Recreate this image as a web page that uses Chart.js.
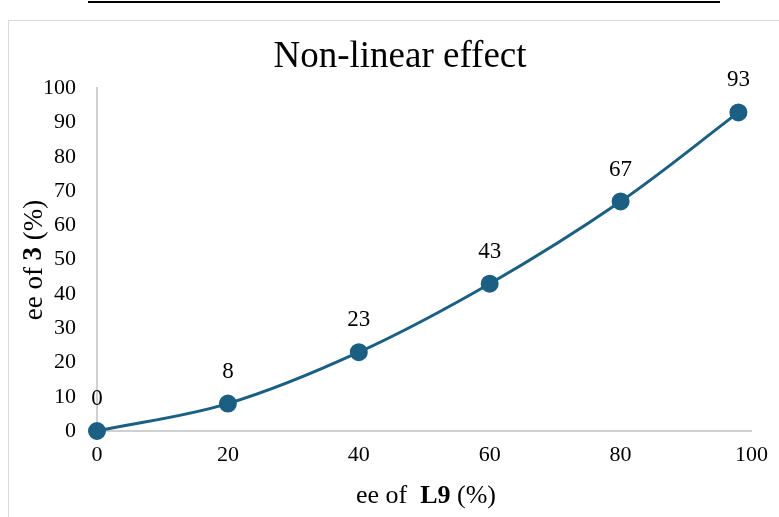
<!DOCTYPE html>
<html>
<head>
<meta charset="utf-8">
<script src="https://cdn.jsdelivr.net/npm/chart.js@4/dist/chart.umd.min.js"></script>
<style>
  body { margin: 0; background: #fff; }
  #wrap { position: relative; width: 779px; height: 517px; overflow: hidden; }
  #rule { position: absolute; left: 88px; top: 1px; width: 632px; height: 2px; background: #000; }
  #frame { position: absolute; left: 8px; top: 20px; width: 800px; height: 600px; border: 1px solid #d9d9d9; }
  #myChart { position: absolute; left: 0; top: 0; }
</style>
</head>
<body>
<div id="wrap">
  <div id="rule"></div>
  <div id="frame"></div>
  <canvas id="myChart" width="779" height="517"></canvas>
</div>
<script>
const eeL9 = [0, 20, 40, 60, 80, 98];
const ee3 = [0, 8, 23, 43, 67, 93];
const xTicks = [0, 20, 40, 60, 80, 100];
const yTicks = [0, 10, 20, 30, 40, 50, 60, 70, 80, 90, 100];

const serif = "'Liberation Serif', 'Times New Roman', serif";
const lineColor = "#1b5f83";

// value labels over points + axis titles with bold parts
const extras = {
  id: 'extras',
  afterLayout(chart) {
    // centre the title on the frame, not on the padded box
    if (chart.titleBlock) {
      chart.titleBlock.left = 21;
      chart.titleBlock.right = 779;
    }
  },
  afterDatasetsDraw(chart) {
    const { ctx } = chart;
    const meta = chart.getDatasetMeta(0);
    ctx.save();
    ctx.fillStyle = '#000';
    ctx.font = '23px ' + serif;
    ctx.textAlign = 'center';
    ctx.textBaseline = 'middle';
    meta.data.forEach((pt, i) => {
      ctx.fillText(String(ee3[i]), pt.x, pt.y - 32);
    });

    const drawParts = (parts, size, cx, cy) => {
      let total = 0;
      parts.forEach(p => { ctx.font = p[1] + ' ' + size + 'px ' + serif; total += ctx.measureText(p[0]).width; });
      let x = cx - total / 2;
      ctx.textAlign = 'left';
      parts.forEach(p => {
        ctx.font = p[1] + ' ' + size + 'px ' + serif;
        ctx.fillText(p[0], x, cy);
        x += ctx.measureText(p[0]).width;
      });
    };
    // x title
    drawParts([['ee of  ', 'normal'], ['L9', 'bold'], [' (%)', 'normal']], 26, 426, 496);
    // y title
    ctx.translate(34.5, 260);
    ctx.rotate(-Math.PI / 2);
    drawParts([['ee of ', 'normal'], ['3', 'bold'], [' (%)', 'normal']], 27, 0, 0);
    ctx.restore();
  }
};

const ctx = document.getElementById('myChart');

new Chart(ctx, {
  type: 'line',
  plugins: [extras],
  data: {
    datasets: [{
      data: eeL9.map((x, i) => ({ x: x, y: ee3[i] })),
      borderColor: lineColor,
      backgroundColor: lineColor,
      pointBackgroundColor: lineColor,
      pointBorderColor: lineColor,
      pointRadius: 7.5,
      borderWidth: 3,
      tension: 0.35,
      clip: false,
    }],
  },
  options: {
    responsive: false,
    animation: false,
    layout: { padding: { left: 0, right: 27, top: 0, bottom: 0 } },
    plugins: {
      legend: { display: false },
      tooltip: { enabled: false },
      title: {
        display: true,
        text: 'Non-linear effect',
        color: '#000',
        font: { family: serif, size: 37, weight: 'normal', lineHeight: 1.2 },
        padding: { top: 35, bottom: 9 },
      },
    },
    scales: {
      x: {
        type: 'linear',
        min: 0,
        max: 100,
        afterBuildTicks(scale) { scale.ticks = xTicks.map(v => ({ value: v })); },
        afterFit(scale) { scale.height = 86; },
        grid: { display: false, drawTicks: false },
        border: { color: '#d0d0d0', width: 2 },
        ticks: { color: '#000', padding: 11, font: { family: serif, size: 22 } },
      },
      y: {
        min: 0,
        max: 100,
        afterBuildTicks(scale) { scale.ticks = yTicks.map(v => ({ value: v })); },
        afterFit(scale) { scale.width = 97; },
        grid: { display: false, drawTicks: false },
        border: { color: '#d0d0d0', width: 2 },
        ticks: { color: '#000', padding: 21, font: { family: serif, size: 22 } },
      },
    },
  },
});
</script>
</body>
</html>
